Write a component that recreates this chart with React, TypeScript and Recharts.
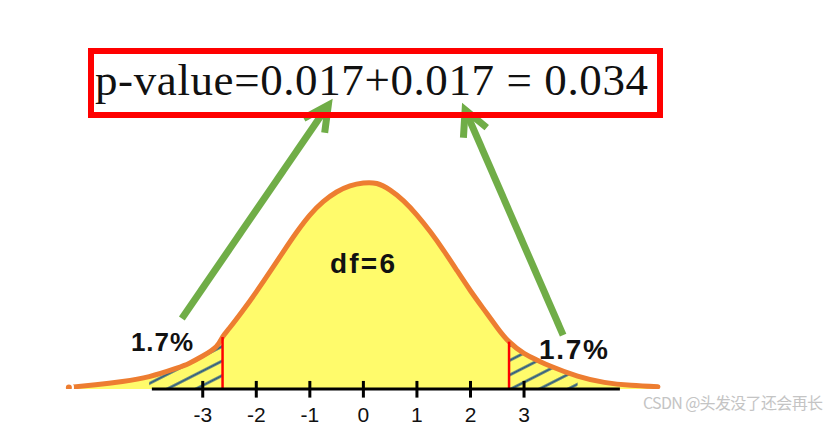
import React from 'react';
import { ComposedChart, Area, Line, XAxis, YAxis, ReferenceLine } from 'recharts';

// curve (t distribution, df = 6)
const tValues = [-5.5, -5, -4.5, -4, -3.5, -3.25, -3, -2.75, -2.63, -2.5, -2.25, -2, -1.75, -1.5, -1.25, -1, -0.75, -0.5, -0.25, 0, 0.25, 0.5, 0.75, 1, 1.25, 1.5, 1.75, 2, 2.25, 2.5, 2.72, 3, 3.25, 3.5, 4, 4.5, 5, 5.5];
const density = [0.0030, 0.0080, 0.0141, 0.0231, 0.0383, 0.0480, 0.0613, 0.0785, 0.0966, 0.1134, 0.1459, 0.1805, 0.2171, 0.2545, 0.2909, 0.3233, 0.3482, 0.3662, 0.3776, 0.3830, 0.3820, 0.3696, 0.3497, 0.3233, 0.2922, 0.2573, 0.2199, 0.1827, 0.1480, 0.1140, 0.0880, 0.0662, 0.0534, 0.0422, 0.0238, 0.0123, 0.0069, 0.0043];

const axisTicks = [-3, -2, -1, 0, 1, 2, 3];
const criticalT = [-2.63, 2.72];
const hatchLeft = [-4, -2.63];
const hatchRight = [2.72, 4];
const axisSpan = [-3.95, 4.79];

// arrows: [tail, tip] in data units
const arrows = [
    [{ x: -3.39, y: 0.131 }, { x: -0.655, y: 0.528 }],
    [{ x: 3.73, y: 0.100 }, { x: 1.90, y: 0.519 }],
];

const title = 'p-value=0.017+0.017 = 0.034';
const tailLabel = '1.7%';
const dfLabel = 'df=6';
const watermark = 'CSDN @头发没了还会再长';

const data = tValues.map((t, i) => ({
    t,
    y: density[i],
    hl: t >= hatchLeft[0] && t <= hatchLeft[1] ? density[i] : null,
    hr: t >= hatchRight[0] && t <= hatchRight[1] ? density[i] : null,
}));

const heightAt = (t: number) => density[tValues.indexOf(t)];

const SANS = '"Liberation Sans", Arial, sans-serif';

const TickLabel = (props: any) => {
    const { x, y, payload } = props;
    return (
        <text x={x} y={y + 33} textAnchor="middle" fontSize={21} fontFamily={SANS} fill="#111">
            {payload.value}
        </text>
    );
};

const Arrow = (props: any) => {
    const { x1, y1, x2, y2 } = props;
    const dx = x1 - x2;
    const dy = y1 - y2;
    const len = Math.sqrt(dx * dx + dy * dy);
    const ux = dx / len;
    const uy = dy / len;
    const a = (27 * Math.PI) / 180;
    const w = 28;
    const rot = (s: number) => ({
        x: x2 + w * (ux * Math.cos(s * a) - uy * Math.sin(s * a)),
        y: y2 + w * (ux * Math.sin(s * a) + uy * Math.cos(s * a)),
    });
    const p1 = rot(1);
    const p2 = rot(-1);
    return (
        <g stroke="#70ad47" strokeWidth={7} fill="none" strokeLinecap="butt" strokeLinejoin="miter">
            <line x1={x1} y1={y1} x2={x2} y2={y2} />
            <polyline points={`${p1.x},${p1.y} ${x2},${y2} ${p2.x},${p2.y}`} />
        </g>
    );
};

export default function App() {
    return (
        <div style={{ position: 'absolute', left: 0, top: 0, width: 835, height: 425, background: '#fff' }}>
            <ComposedChart width={835} height={425} data={data} margin={{ top: 0, right: 0, bottom: 0, left: 0 }}>
                <defs>
                    <pattern id="hatch" patternUnits="userSpaceOnUse" width="13" height="13" patternTransform="rotate(-27)">
                        <line x1="0" y1="6.5" x2="13" y2="6.5" stroke="#2a5a82" strokeWidth="2.4" />
                    </pattern>
                </defs>
                <XAxis
                    dataKey="t"
                    type="number"
                    domain={[-6.786, 8.807]}
                    allowDataOverflow
                    ticks={axisTicks}
                    tick={<TickLabel />}
                    tickLine={false}
                    axisLine={false}
                    tickSize={0}
                    tickMargin={0}
                    height={36}
                />
                <YAxis hide type="number" domain={[0, 0.7232]} allowDataOverflow />
                <Area type="natural" dataKey="y" fill="#fffb6b" fillOpacity={1} stroke="none" isAnimationActive={false} />
                <Area type="natural" dataKey="hl" fill="url(#hatch)" fillOpacity={1} stroke="none" isAnimationActive={false} />
                <Area type="natural" dataKey="hr" fill="url(#hatch)" fillOpacity={1} stroke="none" isAnimationActive={false} />
                <Line type="natural" dataKey="y" stroke="#ed7d31" strokeWidth={5} strokeLinecap="round" dot={false} isAnimationActive={false} />
                {criticalT.map((t) => (
                    <ReferenceLine key={t} segment={[{ x: t, y: 0 }, { x: t, y: heightAt(t) }]} stroke="#ff0000" strokeWidth={2.5} ifOverflow="visible" />
                ))}
                <ReferenceLine segment={[{ x: axisSpan[0], y: 0 }, { x: axisSpan[1], y: 0 }]} stroke="#000" strokeWidth={3} ifOverflow="visible" />
                {axisTicks.map((t) => (
                    <ReferenceLine key={`tk${t}`} segment={[{ x: t, y: -0.016 }, { x: t, y: 0.015 }]} stroke="#000" strokeWidth={3} ifOverflow="visible" />
                ))}
                {arrows.map((a, i) => (
                    <ReferenceLine key={`ar${i}`} segment={a} ifOverflow="visible" shape={Arrow} />
                ))}
            </ComposedChart>
            <svg width={835} height={425} style={{ position: 'absolute', left: 0, top: 0, pointerEvents: 'none' }}>
                <rect x={91} y={51} width={569} height={64} fill="none" stroke="#ff0000" strokeWidth={6} />
                <text x={95} y={95} fontSize={45} fontFamily='"Liberation Serif", "Times New Roman", serif' fill="#111" textLength={553} lengthAdjust="spacing">
                    {title}
                </text>
                <text x={131} y={351} fontSize={26} fontWeight="bold" fontFamily={SANS} fill="#111" textLength={62}>
                    {tailLabel}
                </text>
                <text x={539} y={359} fontSize={28} fontWeight="bold" fontFamily={SANS} fill="#111" textLength={69}>
                    {tailLabel}
                </text>
                <text x={330} y={273} fontSize={28} fontWeight="bold" fontFamily={SANS} fill="#111" textLength={65}>
                    {dfLabel}
                </text>
                <text x={643} y={409} fontSize={16} fontFamily='"Noto Sans CJK SC", sans-serif' fill="#c4c4c4" textLength={180}>
                    {watermark}
                </text>
            </svg>
        </div>
    );
}
